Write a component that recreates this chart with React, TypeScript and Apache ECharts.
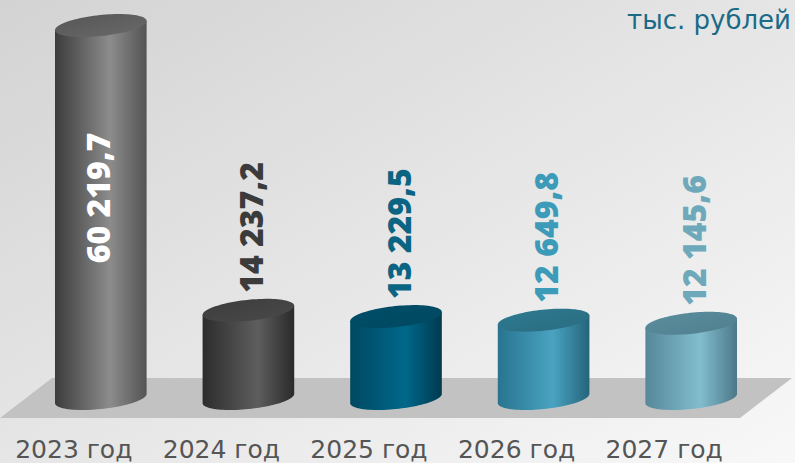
import React, { useEffect, useRef } from "react";
import * as echarts from "echarts";

const categories = ["2023 год", "2024 год", "2025 год", "2026 год", "2027 год"];
const values = [60219.7, 14237.2, 13229.5, 12649.8, 12145.6];
const unitLabel = "тыс. рублей";

const bodyColors = [
  ["#3c3c3c", "#8c8c8c", "#545454"],
  ["#2c2c2c", "#5e5e5e", "#2a2a2a"],
  ["#004862", "#00688a", "#003a50"],
  ["#287490", "#49a3c1", "#25647a"],
  ["#55889a", "#82bdce", "#4c7888"],
];
const topColors = [
  ["#555555", "#6a6a6a"],
  ["#3c3c3c", "#4a4a4a"],
  ["#004e69", "#004860"],
  ["#2e7a90", "#2a6c80"],
  ["#5a8e9e", "#507f8e"],
];
const labelColors = ["#ffffff", "#3b3b3b", "#0b6482", "#3c9bb9", "#6ea9bb"];

function fmt(v: number): string {
  const [i, d] = v.toFixed(1).split(".");
  return i.replace(/\B(?=(\d{3})+(?!\d))/g, " ") + "," + d;
}

export default function App() {
  const ref = useRef<HTMLDivElement>(null);
  useEffect(() => {
    if (!ref.current) return;
    document.body.style.margin = "0";
    const chart = echarts.init(ref.current, undefined, { renderer: "svg" });
    const tilt = (6 * Math.PI) / 180;
    const ca = Math.cos(tilt);
    const sa = Math.sin(tilt);
    chart.setOption({
      animation: false,
      graphic: [
        {
          type: "rect",
          z: -10,
          shape: { x: 0, y: 0, width: 795, height: 463 },
          style: {
            fill: new echarts.graphic.LinearGradient(0, 0, 1, 1, [
              { offset: 0, color: "#d3d3d3" },
              { offset: 1, color: "#f8f8f8" },
            ]),
          },
        },
        {
          type: "polygon",
          z: -5,
          shape: {
            points: [
              [0, 418],
              [52, 378],
              [792, 378],
              [740, 418],
            ],
          },
          style: { fill: "#c2c2c2" },
        },
        {
          type: "text",
          right: 4,
          top: 7,
          z: 5,
          style: {
            text: unitLabel,
            fill: "#1b6a86",
            fontSize: 26,
            fontFamily: "DejaVu Sans",
          },
        },
      ],
      grid: { left: 27, right: 30, top: 8.3, bottom: 64.5 },
      xAxis: {
        type: "category",
        data: categories,
        axisLine: { show: false },
        axisTick: { show: false },
        axisLabel: {
          interval: 0,
          hideOverlap: false,
          color: "#555555",
          fontSize: 25,
          fontFamily: "DejaVu Sans",
          margin: 38,
          padding: [0, 54, 0, 0],
        },
      },
      yAxis: {
        type: "value",
        min: 0,
        max: 63000,
        show: false,
        splitLine: { show: false },
      },
      series: [
        {
          type: "custom",
          data: values.map((v, i) => [i, v]),
          encode: { x: 0, y: 1 },
          renderItem: (params: any, api: any) => {
            const i = params.dataIndex;
            const v = api.value(1) as number;
            const [cx, yTop] = api.coord([api.value(0), v]);
            const [, yBase] = api.coord([api.value(0), 0]);
            const band = api.size([1, 0])[0];
            const rx = band * 0.312;
            const ry = 10.5;
            const pt = (cy: number, t: number) => [
              cx + rx * Math.cos(t) * ca + ry * Math.sin(t) * sa,
              cy - rx * Math.cos(t) * sa + ry * Math.sin(t) * ca,
            ];
            const t0 = Math.atan2(ry * sa, rx * ca);
            const body: number[][] = [pt(yTop, t0 + Math.PI)];
            const N = 48;
            for (let k = 0; k <= N; k++) {
              body.push(pt(yBase, t0 + Math.PI - (Math.PI * k) / N));
            }
            body.push(pt(yTop, t0));
            const top: number[][] = [];
            for (let k = 0; k < 96; k++) {
              top.push(pt(yTop, (2 * Math.PI * k) / 96));
            }
            const h = Math.sqrt(rx * rx * sa * sa + ry * ry * ca * ca);
            const bc = bodyColors[i];
            const tc = topColors[i];
            const label =
              i === 0
                ? {
                    type: "text",
                    x: cx - 3,
                    y: (yTop + yBase) / 2 - 14,
                    rotation: Math.PI / 2,
                    style: {
                      text: fmt(v),
                      fill: labelColors[i],
                      fontSize: 32,
                      fontWeight: 800,
                      fontFamily: "Open Sans",
                      align: "center",
                      verticalAlign: "middle",
                    },
                  }
                : {
                    type: "text",
                    x: cx + 2,
                    y: yTop - h - 6,
                    rotation: Math.PI / 2,
                    style: {
                      text: fmt(v),
                      fill: labelColors[i],
                      fontSize: 32,
                      fontWeight: 800,
                      fontFamily: "Open Sans",
                      align: "left",
                      verticalAlign: "middle",
                    },
                  };
            return {
              type: "group",
              children: [
                {
                  type: "polygon",
                  shape: { points: body },
                  style: {
                    fill: new echarts.graphic.LinearGradient(0, 0, 1, 0, [
                      { offset: 0, color: bc[0] },
                      { offset: 0.6, color: bc[1] },
                      { offset: 1, color: bc[2] },
                    ]),
                  },
                },
                {
                  type: "polygon",
                  shape: { points: top },
                  style: {
                    fill: new echarts.graphic.LinearGradient(0, 0, 1, 1, [
                      { offset: 0, color: tc[0] },
                      { offset: 1, color: tc[1] },
                    ]),
                  },
                },
                label,
              ],
            };
          },
        },
      ],
    });
    return () => chart.dispose();
  }, []);
  return (
    <div
      ref={ref}
      style={{ position: "absolute", left: 0, top: 0, width: 795, height: 463 }}
    />
  );
}
